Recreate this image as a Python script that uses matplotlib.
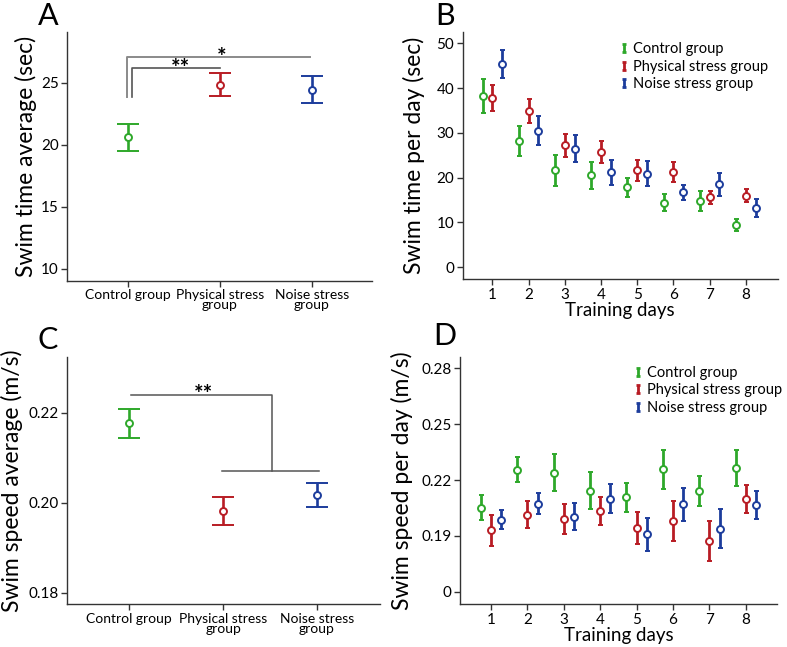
import matplotlib
matplotlib.use('Agg')
import matplotlib.pyplot as plt
import numpy as np
from matplotlib.path import Path
from matplotlib.lines import Line2D

plt.rcParams['font.family'] = ['Lato', 'DejaVu Sans']

# data
groups = ['Control group', 'Physical stress group', 'Noise stress group']
group_ticks = ['Control group', 'Physical stress\ngroup', 'Noise stress\ngroup']
days = [1, 2, 3, 4, 5, 6, 7, 8]

time_mean = [20.6, 24.85, 24.45]
time_err = [1.1, 0.92, 1.08]
speed_mean = [0.2176, 0.1982, 0.2017]
speed_err = [0.0032, 0.0031, 0.0027]

control_time = [38.2, 28.2, 21.6, 20.5, 17.8, 14.4, 14.7, 9.45]
control_time_err = [3.85, 3.35, 3.45, 3.1, 2.15, 1.9, 2.25, 1.3]
physical_time = [37.7, 34.9, 27.2, 25.7, 21.6, 21.3, 15.6, 16.0]
physical_time_err = [2.9, 2.75, 2.65, 2.5, 2.25, 2.25, 1.45, 1.5]
noise_time = [45.3, 30.5, 26.5, 21.2, 20.9, 16.7, 18.5, 13.2]
noise_time_err = [3.1, 3.15, 3.05, 2.75, 2.75, 1.75, 2.6, 2.1]

control_speed = [0.2052, 0.2255, 0.2240, 0.2142, 0.2107, 0.2258, 0.2142, 0.2265]
control_speed_err = [0.0067, 0.0066, 0.0097, 0.0100, 0.0076, 0.0105, 0.0081, 0.0097]
physical_speed = [0.1932, 0.2015, 0.1991, 0.2035, 0.1941, 0.1980, 0.1873, 0.2097]
physical_speed_err = [0.0083, 0.0072, 0.0080, 0.0074, 0.0085, 0.0107, 0.0106, 0.0074]
noise_speed = [0.1988, 0.2074, 0.2004, 0.2100, 0.1908, 0.2070, 0.1940, 0.2064]
noise_speed_err = [0.0049, 0.0056, 0.0072, 0.0079, 0.0088, 0.0087, 0.0106, 0.0075]

colors = ['#2ea82a', '#b81c24', '#1c3c9c']
spine_col = '#333333'

fig = plt.figure(figsize=(7.87, 6.47), dpi=100)
axA = fig.add_axes([0.0851, 0.5657, 0.3875, 0.3849])
axB = fig.add_axes([0.5879, 0.5683, 0.4003, 0.3818])
axC = fig.add_axes([0.0847, 0.0660, 0.3981, 0.3827])
axD = fig.add_axes([0.5845, 0.0660, 0.4024, 0.3822])


def style(ax):
    for s in ['top', 'right']:
        ax.spines[s].set_visible(False)
    for s in ['left', 'bottom']:
        ax.spines[s].set_color(spine_col)
        ax.spines[s].set_linewidth(1.0)
    ax.tick_params(direction='out', length=4, width=1.0, color=spine_col,
                   labelsize=11, pad=2)


def group_panel(ax, means, errs):
    style(ax)
    x = np.arange(1, len(means) + 1)
    for i in range(len(means)):
        ax.errorbar(x[i], means[i], yerr=errs[i], fmt='o', color=colors[i],
                    ecolor=colors[i], elinewidth=1.9, capsize=8, capthick=1.9,
                    markersize=5, markerfacecolor='white', markeredgewidth=1.4)
    ax.set_xticks(x)
    ax.set_xticklabels(group_ticks, fontsize=10, linespacing=0.8)


def day_panel(ax, series, errs, offset):
    style(ax)
    d = np.array(days)
    for i in range(3):
        ax.errorbar(d + (i - 1) * offset, series[i], yerr=errs[i], fmt='o',
                    color=colors[i], ecolor=colors[i], elinewidth=2.0,
                    capsize=1.8, capthick=2.0, markersize=5,
                    markerfacecolor='white', markeredgewidth=1.4)
    ax.set_xticks(days)
    ax.set_xlabel('Training days', fontsize=13.5, labelpad=0)
    # legend with I-shaped icons
    ipath = Path([(0, -1), (0, 1), (-0.5, 1), (0.5, 1), (-0.5, -1), (0.5, -1)],
                 [Path.MOVETO, Path.LINETO, Path.MOVETO, Path.LINETO,
                  Path.MOVETO, Path.LINETO])
    handles = [Line2D([], [], marker=ipath, linestyle='none', color=c,
                      markersize=5.5, markeredgewidth=2.0) for c in colors]
    return handles


# A
group_panel(axA, time_mean, time_err)
axA.set_xlim(0.34, 3.65)
axA.set_ylim(9.0, 29.1)
axA.set_yticks([10, 15, 20, 25])
axA.set_ylabel('Swim time average (sec)', fontsize=16.5)
axA.yaxis.set_label_coords(-0.098, 0.5)
axA.plot([0.99, 0.99, 2.98], [23.87, 27.05, 27.05], color='#8a8a8a', lw=1.4)
axA.plot([1.05, 1.05, 2.0], [23.87, 26.16, 26.16], color='#555555', lw=1.2)
axA.text(2.02, 26.5, '*', ha='center', va='baseline', fontsize=16, fontweight='bold')
axA.text(1.57, 25.59, '**', ha='center', va='baseline', fontsize=16, fontweight='bold')

# C
group_panel(axC, speed_mean, speed_err)
axC.set_xlim(0.334, 3.67)
axC.set_ylim(0.1774, 0.2324)
axC.set_yticks([0.18, 0.20, 0.22])
axC.set_yticklabels(['0.18', '0.20', '0.22'])
axC.set_ylabel('Swim speed average (m/s)', fontsize=16.5)
axC.yaxis.set_label_coords(-0.139, 0.5)
axC.plot([1.02, 2.52, 2.52], [0.2238, 0.2238, 0.2070], color='#555555', lw=1.1)
axC.plot([1.99, 3.02], [0.2070, 0.2070], color='#555555', lw=1.1)
axC.text(1.79, 0.2225, '**', ha='center', va='baseline', fontsize=16, fontweight='bold')

# B
hB = day_panel(axB, [control_time, physical_time, noise_time],
               [control_time_err, physical_time_err, noise_time_err], 0.27)
axB.set_xlim(0.18, 8.88)
axB.set_ylim(-2.7, 52.45)
axB.set_yticks([0, 10, 20, 30, 40, 50])
axB.set_ylabel('Swim time per day (sec)', fontsize=16.5)
axB.yaxis.set_label_coords(-0.12, 0.5)
axB.legend(hB, groups, loc='upper left', bbox_to_anchor=(0.5, 0.96),
           frameon=False, fontsize=10.5, handlelength=0.5, handletextpad=0.35,
           labelspacing=0.25, borderpad=0, borderaxespad=0)

# D
hD = day_panel(axD, [control_speed, physical_speed, noise_speed],
               [control_speed_err, physical_speed_err, noise_speed_err], 0.28)
axD.set_xlim(0.15, 8.85)
axD.set_ylim(0.1534, 0.2859)
axD.set_yticks([0.16, 0.19, 0.22, 0.25, 0.28])
axD.set_yticklabels(['0', '0.19', '0.22', '0.25', '0.28'])
axD.set_ylabel('Swim speed per day (m/s)', fontsize=16.5)
axD.yaxis.set_label_coords(-0.147, 0.5)
axD.legend(hD, groups, loc='upper left', bbox_to_anchor=(0.55, 0.965),
           frameon=False, fontsize=10.5, handlelength=0.5, handletextpad=0.35,
           labelspacing=0.25, borderpad=0, borderaxespad=0)

# panel letters
for lab, x, y in [('A', 48, 16), ('B', 445, 16), ('C', 48, 340), ('D', 445, 336)]:
    fig.text(x / 787, 1 - y / 647, lab, fontsize=22, ha='center', va='center')

fig.savefig('out.png', dpi=100)
